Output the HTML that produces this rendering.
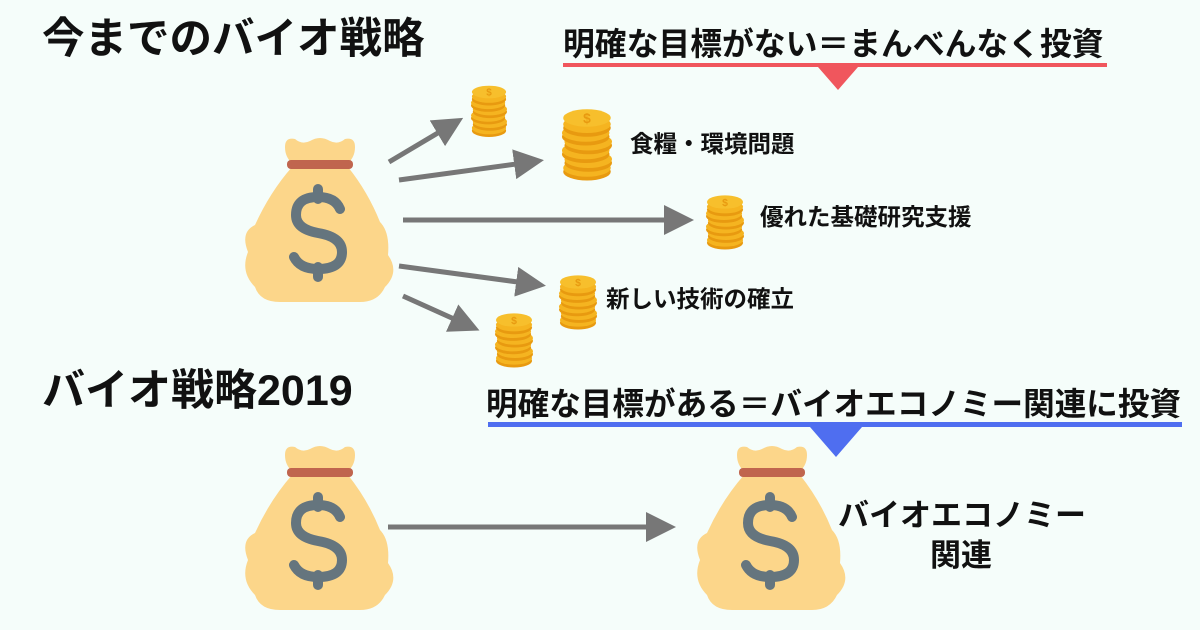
<!DOCTYPE html>
<html><head><meta charset="utf-8"><style>
html,body{margin:0;padding:0}
body{width:1200px;height:630px;background:#f5fdfa;overflow:hidden;position:relative;font-family:"Liberation Sans","Noto Sans CJK JP",sans-serif;font-weight:bold;color:#111}
.t{position:absolute;white-space:nowrap;line-height:1}
</style></head><body>
<svg width="1200" height="630" style="position:absolute;left:0;top:0">
<defs>
<g id="bag">
<path d="M45 10 Q45 0 55 2 Q62 8 70 4 Q80 -2 90 4 Q98 8 105 2 Q115 0 115 10 Q115 20 108 26 L52 26 Q45 20 45 10Z" fill="#fcd68a"/>
<path d="M52 30 L108 30 Q128 55 140 85 Q150 95 148 118 Q160 135 145 150 Q138 165 120 165 L40 165 Q20 165 15 150 Q0 135 8 115 Q0 95 15 88 Q30 55 52 30Z" fill="#fcd68a"/>
<rect x="47" y="23" width="66" height="9" rx="4" fill="#c0654e"/>
<g fill="none" stroke="#65757e" stroke-width="10" stroke-linecap="round">
<line x1="78" y1="52" x2="78" y2="62"/>
<line x1="78" y1="130" x2="78" y2="140"/>
<path d="M100 72 Q95 60 78 60 Q56 60 56 78 Q56 92 78 96 Q102 100 102 115 Q102 132 78 132 Q60 132 54 120"/>
</g>
</g>
<g id="coin">
<ellipse cx="0" cy="3" rx="19" ry="7" fill="#e89a10"/>
<ellipse cx="0" cy="0" rx="19" ry="7" fill="#f5b420"/>
</g>
<g id="stack">
<use href="#coin" y="40"/><use href="#coin" x="1" y="33"/><use href="#coin" x="-1" y="26"/><use href="#coin" x="1" y="19"/><use href="#coin" x="-1" y="12"/><use href="#coin" y="5"/>
<ellipse cx="0" cy="0" rx="19" ry="7" fill="#f7bf2c"/>
<text x="0" y="4" font-size="11" text-anchor="middle" fill="#e89a10" font-family="Liberation Sans">$</text>
</g>
<marker id="ah" viewBox="0 0 10 10" refX="8" refY="5" markerWidth="6" markerHeight="6" orient="auto" markerUnits="strokeWidth"><path d="M0 0 L10 5 L0 10Z" fill="#777"/></marker>
</defs>
<use href="#bag" x="240" y="137"/>
<use href="#bag" x="240" y="445"/>
<use href="#bag" x="692" y="445"/>
<g stroke="#777" stroke-width="5" marker-end="url(#ah)">
<line x1="389" y1="162" x2="458" y2="121"/>
<line x1="399" y1="180" x2="538" y2="161"/>
<line x1="403" y1="220" x2="688" y2="220"/>
<line x1="399" y1="266" x2="540" y2="285"/>
<line x1="403" y1="296" x2="474" y2="328"/>
<line x1="388" y1="527" x2="670" y2="527"/>
</g>
<g transform="translate(489,92) scale(0.9)"><use href="#stack"/></g>
<g transform="translate(587,118) scale(1.25)"><use href="#stack"/></g>
<g transform="translate(725,202) scale(0.95)"><use href="#stack"/></g>
<g transform="translate(578,282) scale(0.95)"><use href="#stack"/></g>
<g transform="translate(514,320) scale(0.95)"><use href="#stack"/></g>
<rect x="563" y="63" width="544" height="4" fill="#f0565d"/>
<path d="M818 67 L858 67 L838 90Z" fill="#f0565d"/>
<rect x="488" y="422" width="694" height="5" fill="#4f6ef0"/>
<path d="M810 427 L862 427 L836 457Z" fill="#4f6ef0"/>
</svg>
<div class="t" style="left:42px;top:19px;font-size:42.5px">今までのバイオ戦略</div>
<div class="t" style="left:42px;top:370px;font-size:43px">バイオ戦略2019</div>
<div class="t" style="left:563px;top:29px;font-size:31.8px">明確な目標がない＝まんべんなく投資</div>
<div class="t" style="left:486px;top:389px;font-size:31.6px">明確な目標がある＝バイオエコノミー関連に投資</div>
<div class="t" style="left:630px;top:133px;font-size:23.5px">食糧・環境問題</div>
<div class="t" style="left:760px;top:206px;font-size:23.5px">優れた基礎研究支援</div>
<div class="t" style="left:606px;top:288px;font-size:23.5px">新しい技術の確立</div>
<div class="t" style="left:838px;top:500px;font-size:31px">バイオエコノミー</div>
<div class="t" style="left:930px;top:540px;font-size:31px">関連</div>
</body></html>
